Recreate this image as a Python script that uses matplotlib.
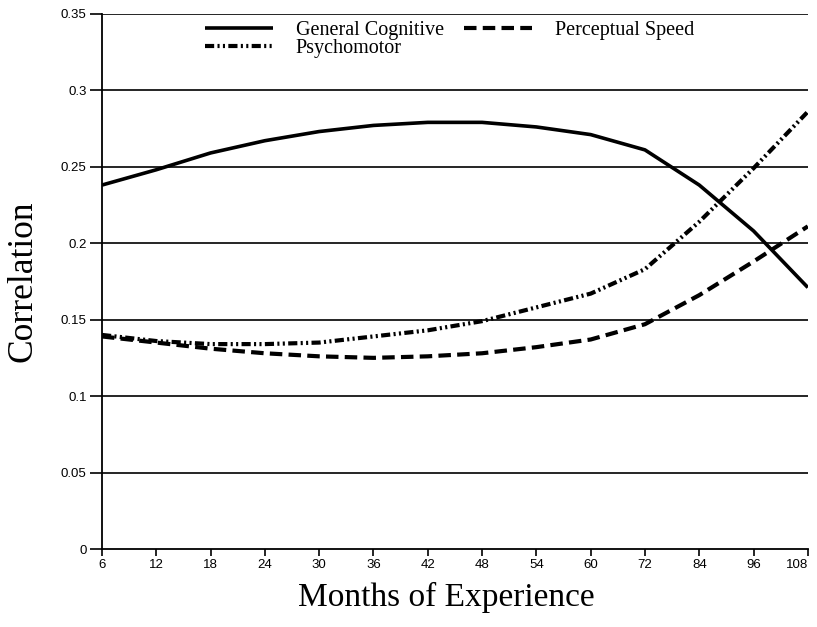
import matplotlib.pyplot as plt

meses = ["6", "12", "18", "24", "30", "36", "42", "48", "54", "60", "72", "84", "96", "108"]
general_cognitive = [0.238, 0.248, 0.259, 0.267, 0.273, 0.277, 0.279, 0.279, 0.276, 0.271, 0.261, 0.238, 0.208, 0.171]
perceptual_speed = [0.139, 0.135, 0.131, 0.128, 0.126, 0.125, 0.126, 0.128, 0.132, 0.137, 0.147, 0.166, 0.188, 0.211]
psychomotor = [0.140, 0.136, 0.134, 0.134, 0.135, 0.139, 0.143, 0.149, 0.158, 0.167, 0.183, 0.214, 0.249, 0.286]
y_ticks = [0, 0.05, 0.1, 0.15, 0.2, 0.25, 0.3, 0.35]
y_labels = ["0", "0.05", "0.1", "0.15", "0.2", "0.25", "0.3", "0.35"]

fig = plt.figure(figsize=(8.17, 6.27), dpi=100)
ax = fig.add_axes([0.1248, 0.1244, 0.864, 0.8536])

x = list(range(len(meses)))
l1, = ax.plot(x, general_cognitive, color="black", lw=2.6, solid_capstyle="butt")
l2, = ax.plot(x, perceptual_speed, color="black", lw=3.0, dashes=(3, 1.5))
l3, = ax.plot(x, psychomotor, color="black", lw=3.0, dashes=(2.2, 0.8, 0.5, 0.8, 0.5, 0.8))

ax.set_xlim(0, len(meses) - 1)
ax.set_ylim(0, 0.35)
ax.set_xticks(x)
ax.set_xticklabels(meses, fontsize=9.5, family="Liberation Sans")
ax.get_xticklabels()[-1].set_horizontalalignment("right")
ax.set_yticks(y_ticks)
ax.set_yticklabels(y_labels, fontsize=9.5, family="Liberation Sans")
ax.tick_params(axis="both", direction="out", length=9, width=1.2, colors="black", pad=2)
ax.tick_params(axis="x", length=5)

# lineas horizontales de la rejilla
for v in y_ticks[1:]:
    ax.axhline(v, color="black", lw=1.2, zorder=0)

for s in ["top", "right"]:
    ax.spines[s].set_visible(False)
for s in ["left", "bottom"]:
    ax.spines[s].set_linewidth(1.3)

ax.set_ylabel("Correlation", fontsize=25.5, family="Liberation Serif")
ax.yaxis.set_label_coords(-0.088, 0.5)
ax.set_xlabel("Months of Experience", fontsize=24, family="Liberation Serif")
ax.xaxis.set_label_coords(0.488, -0.062)

ax.legend([l1, l3, l2], ["General Cognitive", "Psychomotor", "Perceptual Speed"],
          ncol=2, frameon=False, loc="upper left", bbox_to_anchor=(0.146, 0.987),
          borderpad=0, borderaxespad=0,
          prop={"family": "Liberation Serif", "size": 14.5},
          handlelength=3.4, columnspacing=1.0, labelspacing=-0.05, handletextpad=1.1)

fig.savefig("out.png", dpi=100)
